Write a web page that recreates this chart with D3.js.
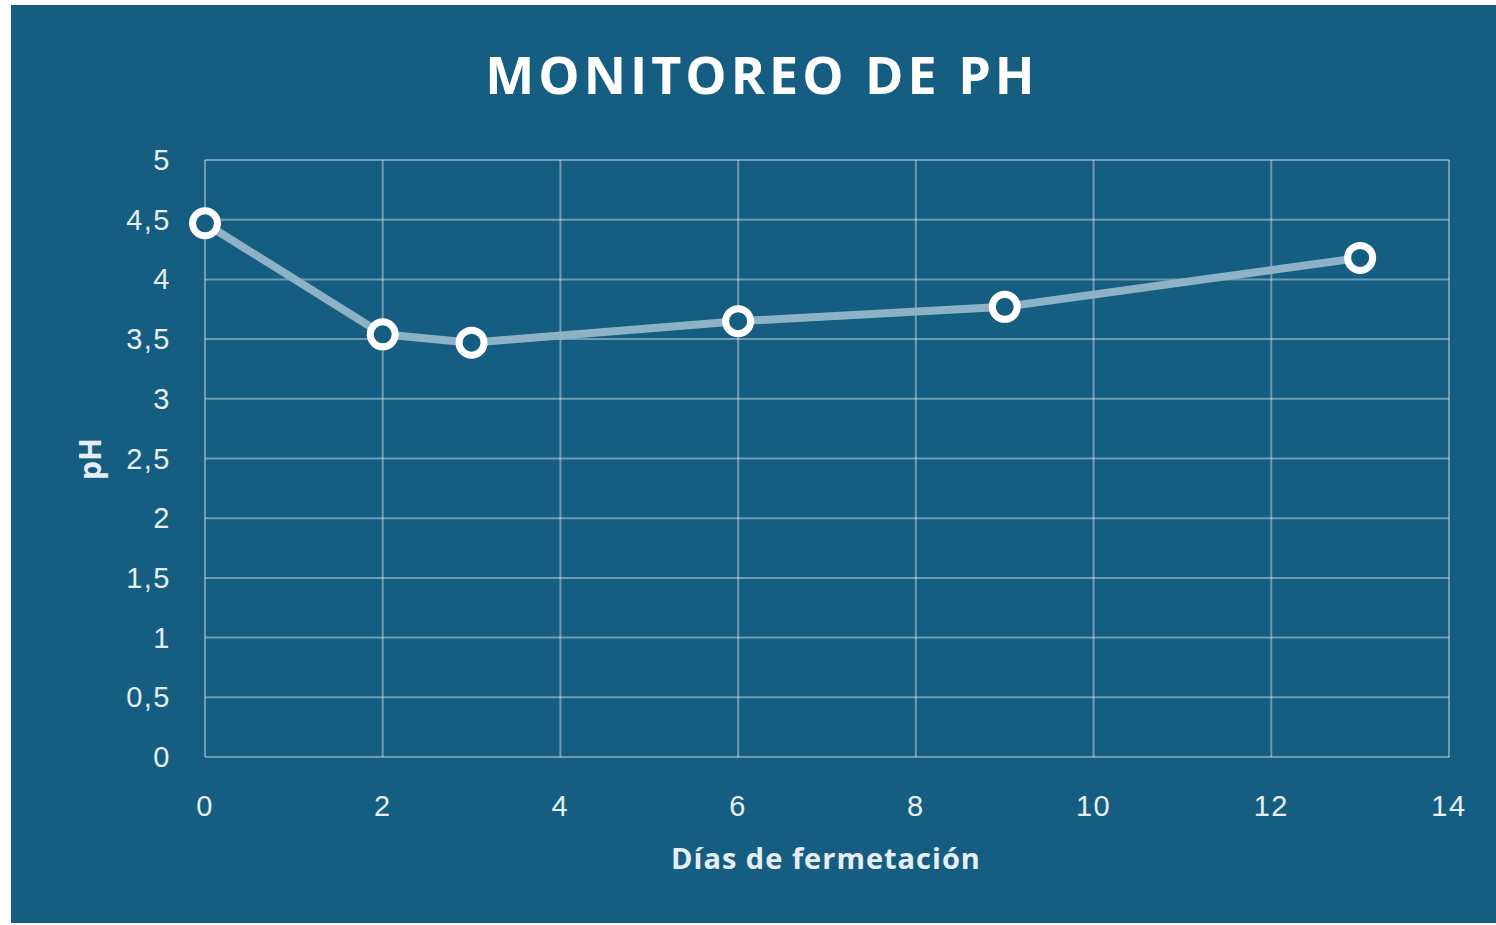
<!DOCTYPE html>
<html>
<head>
<meta charset="utf-8">
<script src="https://cdn.jsdelivr.net/npm/d3@7"></script>
<style>
  body { margin: 0; background: #ffffff; }
</style>
</head>
<body>
<div id="chart"></div>
<script>
// data
var days = [0, 2, 3, 6, 9, 13]
var phValues = [4.47, 3.54, 3.47, 3.65, 3.77, 4.18]
var xTicks = [0, 2, 4, 6, 8, 10, 12, 14]
var yTicks = [0, 0.5, 1, 1.5, 2, 2.5, 3, 3.5, 4, 4.5, 5]

var W = 1496, H = 925
var bg = "#165E81"
var gridColor = "rgba(255,255,255,0.38)"
var textColor = "#E6EEF3"

var svg = d3.select("#chart").append("svg")
    .attr("width", W).attr("height", H)

svg.append("rect")
    .attr("x", 11).attr("y", 5)
    .attr("width", W - 11).attr("height", H - 7)
    .style("fill", bg)

var x = d3.scaleLinear().domain([0, 14]).range([205, 1449])
var y = d3.scaleLinear().domain([0, 5]).range([757, 160])

// grid
svg.append("g").selectAll("line.h")
    .data(yTicks).enter().append("line")
    .attr("x1", x(0)).attr("x2", x(14))
    .attr("y1", d => y(d)).attr("y2", d => y(d))
    .style("stroke", gridColor).style("stroke-width", 2)
svg.append("g").selectAll("line.v")
    .data(xTicks).enter().append("line")
    .attr("x1", d => x(d)).attr("x2", d => x(d))
    .attr("y1", y(0)).attr("y2", y(5))
    .style("stroke", gridColor).style("stroke-width", 2)

// tick labels
svg.append("g").selectAll("text")
    .data(yTicks).enter().append("text")
    .attr("x", 171).attr("y", d => y(d) + 10)
    .attr("text-anchor", "end")
    .style("font-family", "Liberation Sans, Arial, sans-serif")
    .style("font-size", "29px")
    .style("letter-spacing", "1.5px")
    .style("fill", textColor)
    .text(d => String(d).replace(".", ","))
svg.append("g").selectAll("text")
    .data(xTicks).enter().append("text")
    .attr("x", d => x(d)).attr("y", 816)
    .attr("text-anchor", "middle")
    .style("font-family", "Liberation Sans, Arial, sans-serif")
    .style("font-size", "29px")
    .style("letter-spacing", "1.5px")
    .style("fill", textColor)
    .text(d => d)

// titles
svg.append("text")
    .attr("x", 762).attr("y", 94)
    .attr("text-anchor", "middle")
    .style("font-family", "Open Sans, sans-serif")
    .style("font-weight", "bold")
    .style("font-size", "52px")
    .style("letter-spacing", "4px")
    .style("fill", "#ffffff")
    .text("MONITOREO DE PH")

svg.append("text")
    .attr("x", 826).attr("y", 869)
    .attr("text-anchor", "middle")
    .style("font-family", "Open Sans, sans-serif")
    .style("font-weight", "bold")
    .style("font-size", "29px")
    .style("letter-spacing", "1px")
    .style("fill", textColor)
    .text("Días de fermetación")

svg.append("text")
    .attr("transform", "translate(101,459) rotate(-90)")
    .attr("text-anchor", "middle")
    .style("font-family", "Open Sans, sans-serif")
    .style("font-weight", "bold")
    .style("font-size", "30px")
    .style("fill", textColor)
    .text("pH")

// series
var pts = days.map((d, i) => [d, phValues[i]])
var line = d3.line().x(d => x(d[0])).y(d => y(d[1]))
svg.append("path")
    .attr("d", line(pts))
    .style("fill", "none")
    .style("stroke", "#8DB2C6")
    .style("stroke-width", 8)
    .style("stroke-linejoin", "round")

svg.append("g").selectAll("circle")
    .data(pts).enter().append("circle")
    .attr("cx", d => x(d[0])).attr("cy", d => y(d[1]))
    .attr("r", 12.5)
    .style("fill", bg)
    .style("stroke", "#ffffff")
    .style("stroke-width", 7)
</script>
</body>
</html>
